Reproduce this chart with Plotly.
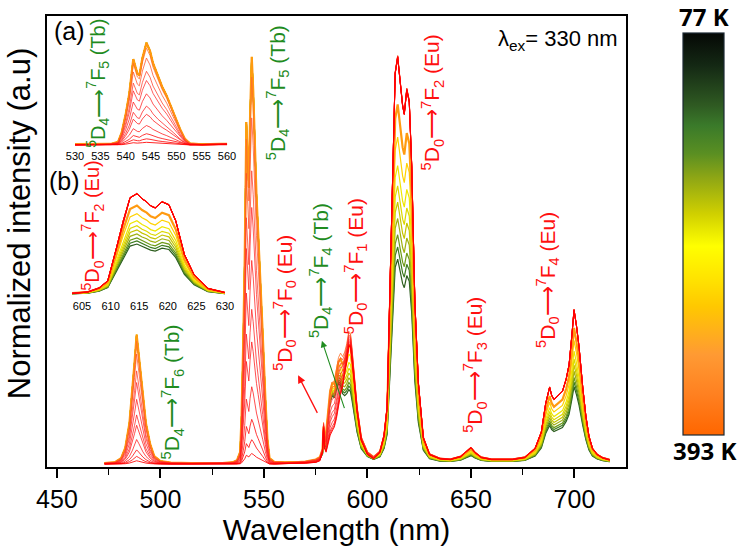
import plotly.graph_objects as go

# ---------------- data ----------------
temps = [77, 95, 115, 135, 155, 175, 195, 215, 235, 250, 265, 280, 295, 310, 325, 340, 355, 370, 383, 393]
tb_amp = [1, 1, 1, 1, 1, 1, 1, 1, 1, 0.95, 0.85, 0.72, 0.63, 0.50, 0.38, 0.30, 0.19, 0.11, 0.06, 0.026]
eu_amp = [0.50, 0.53, 0.56, 0.60, 0.64, 0.68, 0.73, 0.80, 0.88, 1, 1, 1, 1, 1, 1, 1, 1, 1, 1, 1]
line_colors = ['#2d5e1e', '#3f7d22', '#6e9a18', '#9fb010', '#c6c400', '#dcd800', '#eee600', '#ffd200',
               '#ff9a10', 'rgba(255,110,40,0.8)', 'rgba(255,80,40,0.75)', 'rgba(255,60,40,0.75)',
               'rgba(255,40,40,0.75)', 'rgba(255,30,30,0.75)', 'rgba(255,30,30,0.75)', 'rgba(255,20,20,0.75)',
               'rgba(255,20,20,0.75)', 'rgba(255,10,10,0.8)', 'rgba(255,0,0,0.8)', 'rgba(255,0,0,0.85)']

wavelength = [473, 478, 481, 483, 485, 486.5, 487.5, 488.5, 489.5, 490.5, 491.5, 493, 495, 497, 500, 505,
              515, 525, 530, 535, 537, 538.5, 539.2, 540, 540.7, 541.5, 542.3, 542.7, 543.3, 544.1, 544.8,
              545.4, 546.4, 547.2, 548.1, 549.4, 550.7, 551.7, 552.7, 555, 560, 565, 570, 575, 577, 578.3,
              578.8, 579.3, 580, 581, 582, 583, 584, 585, 586, 587, 588, 589, 590, 591, 591.8, 592.5, 593.5,
              595, 597, 600, 603, 606, 608, 609.5, 611, 612.2, 613.4, 614.6, 615.5, 616.3, 617.0, 617.8,
              619.0, 620.2, 621.4, 622.9, 624.6, 627, 630, 635, 640, 645, 648, 650, 652, 655, 660, 670, 676,
              681, 684, 686.1, 688, 689, 690.1, 692, 694.2, 696, 697.4, 698.8, 699.8, 701, 702.2, 704, 705.5,
              707, 708.7, 711, 713.6, 717, 720]
tb_profile = [0.003, 0.005, 0.015, 0.04, 0.10, 0.18, 0.25, 0.318, 0.27, 0.21, 0.16, 0.10, 0.05, 0.02, 0.008, 0.004,
              0.003, 0.003, 0.003, 0.005, 0.01, 0.03, 0.12, 0.30, 0.50, 0.84, 0.70, 0.68, 0.85, 1.0, 0.92,
              0.80, 0.66, 0.57, 0.48, 0.32, 0.16, 0.06, 0.015, 0.006, 0.004, 0.004, 0.005, 0.008, 0.01, 0.012,
              0.015, 0.02, 0.05, 0.09, 0.12, 0.13, 0.12, 0.13, 0.13, 0.11, 0.08, 0.06, 0.05, 0.04, 0.035, 0.03, 0.02,
              0.015, 0.01, 0.008, 0.006, 0.005, 0.005, 0.005, 0.005, 0.005, 0.005, 0.005, 0.005, 0.005, 0.005, 0.005,
              0.005, 0.006, 0.006, 0.005, 0.004, 0.003, 0.003, 0.002, 0.002, 0.002, 0.002, 0.002, 0.002, 0.002, 0.002, 0.002, 0.002,
              0.002, 0.002, 0.002, 0.002, 0.002, 0.002, 0.002, 0.002, 0.002, 0.002, 0.002, 0.002, 0.002, 0.002, 0.002,
              0.002, 0.002, 0.002, 0.002, 0.002, 0.002]
eu_profile = [0.002, 0.002, 0.002, 0.002, 0.002, 0.002, 0.002, 0.002, 0.002, 0.002, 0.002, 0.002, 0.002, 0.002, 0.002, 0.002,
              0.002, 0.002, 0.002, 0.002, 0.002, 0.002, 0.002, 0.002, 0.002, 0.002, 0.002, 0.002, 0.002, 0.002, 0.002,
              0.002, 0.002, 0.002, 0.002, 0.002, 0.002, 0.002, 0.002, 0.002, 0.003, 0.003, 0.004, 0.006, 0.01, 0.03,
              0.09, 0.04, 0.03, 0.05, 0.07, 0.08, 0.09, 0.11, 0.14, 0.17, 0.19, 0.22, 0.25, 0.29, 0.29, 0.26, 0.21,
              0.13, 0.06, 0.025, 0.015, 0.03, 0.07, 0.14, 0.46, 0.73, 0.96, 1.0, 0.95, 0.92, 0.88, 0.86,
              0.92, 0.89, 0.73, 0.40, 0.20, 0.066, 0.025, 0.015, 0.013, 0.02, 0.032, 0.042, 0.03, 0.018, 0.013, 0.013, 0.018,
              0.04, 0.08, 0.15, 0.19, 0.17, 0.16, 0.17, 0.18, 0.21, 0.245, 0.32, 0.38, 0.34, 0.29, 0.19, 0.12,
              0.07, 0.04, 0.025, 0.017, 0.012, 0.01]

inset_a_ticks = [530, 535, 540, 545, 550, 555, 560]
inset_b_ticks = [605, 610, 615, 620, 625, 630]
main_ticks = [450, 500, 550, 600, 650, 700]

FONT = "Liberation Sans, Arial, sans-serif"
GREEN = '#1f8c1f'
RED = '#ff1010'

fig = go.Figure()

for i, t in enumerate(temps):
    spec = [tb_amp[i] * a + eu_amp[i] * b for a, b in zip(tb_profile, eu_profile)]
    w = 2.2 if t == 235 else (1.2 if i < 9 else 1.0)
    for xa, ya in (('x', 'y'), ('x2', 'y2'), ('x3', 'y3')):
        fig.add_trace(go.Scatter(x=wavelength, y=spec, mode='lines', xaxis=xa, yaxis=ya,
                                 line=dict(color=line_colors[i], width=w), showlegend=False,
                                 hoverinfo='skip', name=f'{t} K'))

# colour bar (77 K top -> 393 K bottom)
cscale = [[0.0, '#050805'], [0.08, '#142814'], [0.18, '#2f5a22'], [0.23, '#3a7a2a'], [0.30, '#5a8f22'],
          [0.36, '#8ea615'], [0.45, '#d0d000'], [0.53, '#ffff00'], [0.62, '#ffe000'], [0.68, '#ffc800'],
          [0.80, '#ff9a33'], [0.90, '#ff8020'], [1.0, '#ff6600']]
fig.add_trace(go.Scatter(x=[500, 510], y=[-5, -5], mode='markers', showlegend=False, hoverinfo='skip',
                         marker=dict(color=[77, 393], cmin=77, cmax=393, colorscale=cscale,
                                     reversescale=True, opacity=0, showscale=True,
                                     colorbar=dict(x=1.098, xanchor='left', thickness=41, thicknessmode='pixels',
                                                   len=0.892, lenmode='fraction', y=0.5165, yanchor='middle',
                                                   outlinewidth=1.2, outlinecolor='#1c2833', ticks='',
                                                   showticklabels=False, xpad=0, ypad=0))))

fig.update_layout(
    width=750, height=550, margin=dict(l=47, r=124, t=16, b=80),
    paper_bgcolor='white', plot_bgcolor='white', showlegend=False,
    font=dict(family=FONT, color='black'),
    xaxis=dict(range=[445.2, 724.9], tickvals=main_ticks, ticks='outside', ticklen=9, tickwidth=1.5,
               tickcolor='black', showline=True, linewidth=1.5, linecolor='black', mirror=True,
               showgrid=False, zeroline=False, tickfont=dict(size=25, family=FONT),
               minor=dict(dtick=25, tick0=475, ticks='outside', ticklen=6, tickwidth=1.2, tickcolor='black'),
               title=dict(text='Wavelength (nm)', font=dict(size=30, family=FONT), standoff=4)),
    yaxis=dict(range=[-0.005, 1.102], showticklabels=False, ticks='', showline=True, linewidth=1.5,
               linecolor='black', mirror=True, showgrid=False, zeroline=False),
    xaxis2=dict(domain=[0.0484, 0.3109], anchor='y2', range=[530, 560], tickvals=inset_a_ticks,
                ticks='', showline=False, showgrid=False, zeroline=False,
                tickfont=dict(size=11, family=FONT)),
    yaxis2=dict(domain=[0.707, 0.9515], anchor='x2', range=[-0.029, 1.049], visible=False),
    xaxis3=dict(domain=[0.0432, 0.3074], anchor='y3', range=[603.25, 630], tickvals=inset_b_ticks,
                ticks='', showline=False, showgrid=False, zeroline=False,
                tickfont=dict(size=11, family=FONT)),
    yaxis3=dict(domain=[0.3744, 0.6211], anchor='x3', range=[-0.029, 1.069], visible=False),
)

ARW = '⟶'
def lab(up, lo, jup, jlo, ion):
    return f'<sup>{up}</sup>D<sub>{lo}</sub>{ARW}<sup>{jup}</sup>F<sub>{jlo}</sub> ({ion})'

labels = [
    (505.6, 0.178, lab(5, 4, 7, 6, 'Tb'), GREEN),
    (556.3, 0.915, lab(5, 4, 7, 5, 'Tb'), GREEN),
    (560.2, 0.398, lab(5, 0, 7, 0, 'Eu'), RED),
    (577.1, 0.476, lab(5, 4, 7, 4, 'Tb'), GREEN),
    (594.0, 0.488, lab(5, 0, 7, 1, 'Eu'), RED),
    (631.2, 0.890, lab(5, 0, 7, 2, 'Eu'), RED),
    (652.0, 0.246, lab(5, 0, 7, 3, 'Eu'), RED),
    (686.7, 0.454, lab(5, 0, 7, 4, 'Eu'), RED),
]
for x, y, txt, c in labels:
    fig.add_annotation(x=x, y=y, xref='x', yref='y', text=txt, textangle=-90, showarrow=False,
                       font=dict(size=21, color=c, family=FONT), xanchor='center', yanchor='middle')

# pointer arrows
fig.add_annotation(x=566.5, y=0.22, xref='x', yref='y', text='', showarrow=True, ax=20, ay=39,
                   arrowhead=2, arrowsize=1.2, arrowwidth=1.3, arrowcolor=RED)
fig.add_annotation(x=578.0, y=0.305, xref='x', yref='y', text='', showarrow=True, ax=23, ay=69,
                   arrowhead=2, arrowsize=1.2, arrowwidth=1.1, arrowcolor=GREEN)

def pann(x, y, text, size, color='black', angle=0, family=FONT):
    fig.add_annotation(x=x, y=y, xref='paper', yref='paper', text=text, showarrow=False,
                       textangle=angle, xanchor='center', yanchor='middle',
                       font=dict(size=size, color=color, family=family))

# inset labels
pann(0.038, 0.966, '(a)', 25)
pann(0.088, 0.852, lab(5, 4, 7, 5, 'Tb'), 20, GREEN, -90)
pann(0.031, 0.634, '(b)', 25)
pann(0.079, 0.535, lab(5, 0, 7, 2, 'Eu'), 20, RED, -90)
fig.add_annotation(x=0.99, y=0.947, xref='paper', yref='paper', text='λ<sub>ex</sub>= 330 nm',
                   showarrow=False, xanchor='right', yanchor='middle', font=dict(size=22, family=FONT))

# y title
pann(-0.047, 0.54, 'Normalized intensity (a.u)', 31, angle=-90)

# colour bar labels
pann(1.135, 1.0, '<b>77 K</b>', 24, family='Open Sans, Lato, sans-serif')
pann(1.135, 0.0374, '<b>393 K</b>', 24, family='Open Sans, Lato, sans-serif')

fig.write_html('out.html')
